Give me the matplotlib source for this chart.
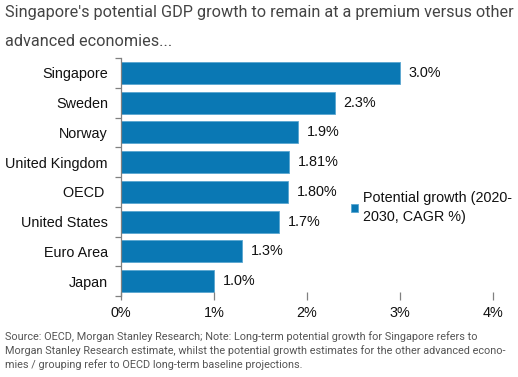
import matplotlib
matplotlib.use("Agg")
import matplotlib.pyplot as plt
import numpy as np

categories = ["Singapore", "Sweden", "Norway", "United Kingdom", "OECD ", "United States", "Euro Area", "Japan"]
values = [3.0, 2.3, 1.9, 1.81, 1.80, 1.7, 1.3, 1.0]
value_labels = ["3.0%", "2.3%", "1.9%", "1.81%", "1.80%", "1.7%", "1.3%", "1.0%"]
xticks = [0, 1, 2, 3, 4]
xtick_labels = ["0%", "1%", "2%", "3%", "4%"]
series_name = "Potential growth (2020-\n2030, CAGR %)"
title_lines = ["Singapore's potential GDP growth to remain at a premium versus other", "advanced economies..."]
footnote = ("Source: OECD, Morgan Stanley Research; Note: Long-term potential growth for Singapore refers to\n"
            "Morgan Stanley Research estimate, whilst the potential growth estimates for the other advanced econo-\n"
            "mies / grouping refer to OECD long-term baseline projections.")

W, H = 518, 377
fig = plt.figure(figsize=(W / 100, H / 100), dpi=100)
ax = fig.add_axes([121 / W, 1 - 296 / H, (493 - 121) / W, (296 - 58) / H])

FS = 10.4
color = "#0a78b4"
y = np.arange(len(categories))
bars = ax.barh(y, values, height=0.74, color=color, edgecolor="#5aa6d0", linewidth=0.6, label=series_name)
for yi, v, lab in zip(y, values, value_labels):
    ax.text(v + 0.095, yi, lab, va="center", ha="left", fontsize=FS, family="Liberation Sans", color="#111111")

ax.set_xlim(0, 4)
ax.set_ylim(len(categories) - 0.5, -0.5)
for s in ["top", "right", "bottom"]:
    ax.spines[s].set_visible(False)
ax.spines["left"].set_color("#808080")
ax.spines["left"].set_linewidth(0.9)

ax.set_yticks(np.arange(-0.5, len(categories)), [""] * (len(categories) + 1))
ax.set_yticks(y, categories, minor=True)
ax.tick_params(axis="y", which="major", length=4.3, color="#808080", width=0.9)
ax.tick_params(axis="y", which="minor", length=0, pad=9.4, labelsize=FS)
for t in ax.get_yticklabels(minor=True):
    t.set_family("Liberation Sans")
    t.set_color("#111111")

ax.set_xticks(xticks, xtick_labels)
ax.tick_params(axis="x", length=6, direction="inout", color="#808080", width=0.9, pad=4.5, labelsize=FS)
for t in ax.get_xticklabels():
    t.set_family("Liberation Sans")
    t.set_color("#111111")

leg = fig.legend(handles=[bars], labels=[series_name], loc="upper left", bbox_to_anchor=(351 / W, 1 - 191 / H),
                 frameon=False, handlelength=0.5, handleheight=0.5, handletextpad=0.3,
                 prop={"family": "Liberation Sans", "size": FS}, borderaxespad=0, borderpad=0)
for t in leg.get_texts():
    t.set_color("#111111")
    t.set_linespacing(1.45)

for i, line in enumerate(title_lines):
    fig.text(5 / W, 1 - (13 + 28 * i) / H, line, ha="left", va="center", fontsize=11.7,
             family="Roboto", color="#444444")
fig.text(5 / W, 1 - 331 / H, footnote, ha="left", va="top", fontsize=7.8, family="Roboto", color="#555555", linespacing=1.35)

fig.savefig("out.png", dpi=100)
